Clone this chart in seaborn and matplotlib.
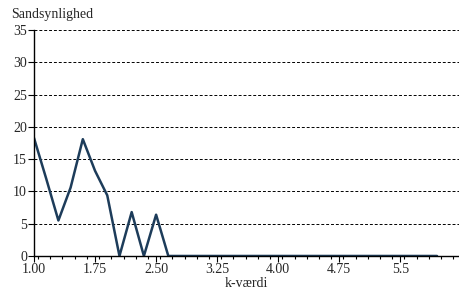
import numpy as np
import pandas as pd
import seaborn as sns
import matplotlib.pyplot as plt
from matplotlib.ticker import MultipleLocator

k_values = [1.00, 1.15, 1.30, 1.45, 1.60, 1.75, 1.90, 2.05, 2.20, 2.35, 2.50, 2.65,
            2.80, 2.95, 3.10, 3.25, 3.40, 3.55, 3.70, 3.85, 4.00, 4.15, 4.30, 4.45,
            4.60, 4.75, 4.90, 5.05, 5.20, 5.35, 5.50, 5.65, 5.80, 5.95]
probability = [18.3, 12.0, 5.5, 10.6, 18.1, 13.2, 9.4, 0.0, 6.8, 0.0, 6.4, 0.0,
               0, 0, 0, 0, 0, 0, 0, 0, 0, 0, 0, 0,
               0, 0, 0, 0, 0, 0, 0, 0, 0, 0]
x_ticks = [1.00, 1.75, 2.50, 3.25, 4.00, 4.75, 5.5]
x_labels = ["1.00", "1.75", "2.50", "3.25", "4.00", "4.75", "5.5"]

sns.set_style("white")
plt.rcParams['font.family'] = ['Liberation Serif', 'DejaVu Serif']

df = pd.DataFrame({"k": k_values, "p": probability})

fig = plt.figure(figsize=(4.59, 2.98), dpi=100)
ax = fig.add_axes([0.074, 0.141, 0.926, 0.758])

sns.lineplot(data=df, x="k", y="p", ax=ax, color="#1d3c5a", linewidth=1.8)

ax.set_xlim(1.0, 6.22)
ax.set_ylim(0, 35)
ax.set_yticks(range(0, 36, 5))
ax.set_xticks(x_ticks)
ax.set_xticklabels(x_labels)
ax.xaxis.set_minor_locator(MultipleLocator(0.15))
ax.tick_params(axis="both", which="major", direction="out", length=4, width=0.8,
               color="black", labelsize=10, pad=1, bottom=True, left=True)
ax.tick_params(axis="x", which="minor", direction="out", length=2, width=0.8,
               color="black", bottom=True)
ax.grid(axis="y", color="black", linestyle=(0, (3, 2)), linewidth=0.7)
ax.set_axisbelow(True)

for side in ["top", "right"]:
    ax.spines[side].set_visible(False)
for side in ["left", "bottom"]:
    ax.spines[side].set_color("black")
    ax.spines[side].set_linewidth(1.0)

ax.set_xlabel("k-værdi", fontsize=10, labelpad=1)
ax.set_ylabel("")
fig.text(0.024, 0.95, "Sandsynlighed", fontsize=10, ha="left", va="center")

fig.savefig("out.png", dpi=100)
